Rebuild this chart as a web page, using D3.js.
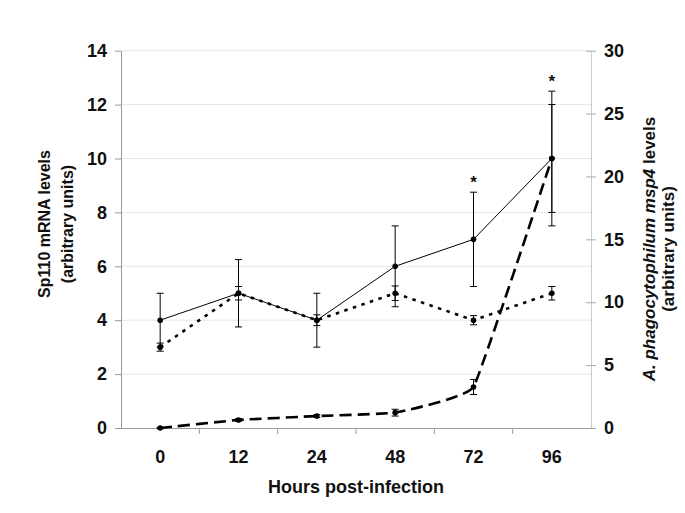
<!DOCTYPE html>
<html><head><meta charset="utf-8">
<script src="https://cdn.jsdelivr.net/npm/d3@7"></script>
<style>
html,body{margin:0;padding:0;background:#fff;}
svg{display:block;font-family:"Liberation Sans",Arial,sans-serif;}
</style></head>
<body>
<svg id="chart" width="685" height="513"></svg>
<script>
const categories = ["0","12","24","48","72","96"];
const sp110 = [4, 5, 4, 6, 7, 10];
const sp110Err = [1, 1.25, 1, 1.5, 1.75, 2.5];
const sp110B = [3, 5, 4, 5, 4, 5];
const sp110BErr = [0.15, 0.25, 0.2, 0.27, 0.17, 0.25];
const msp4 = [0, 0.64, 0.95, 1.22, 3.26, 21.43];
const msp4Err = [0.05, 0.1, 0.1, 0.27, 0.6, 4.29];
const leftTicks = [0, 2, 4, 6, 8, 10, 12, 14];
const rightTicks = [0, 5, 10, 15, 20, 25, 30];
const starred = ["72", "96"];

const svg = d3.select("#chart");
const tf = "Liberation Sans, Arial, sans-serif";
const FS = 18;
const L = 121, R = 591, T = 50.7, B = 428;
const x = d3.scaleBand().domain(categories).range([L, R]);
const yL = d3.scaleLinear().domain([0, 14]).range([B, T]);
const yR = d3.scaleLinear().domain([0, 30]).range([B, T]);
const cx = c => x(c) + x.bandwidth() / 2;

// gridlines
svg.append("g").selectAll("line").data(leftTicks.filter(d => d > 0)).join("line")
  .attr("x1", L).attr("x2", R).attr("y1", d => yL(d)).attr("y2", d => yL(d))
  .attr("stroke", "#e6e6e6").attr("stroke-width", 1);

function styleText(sel, fs) {
  return sel.attr("font-size", fs || FS).attr("font-weight", "bold")
    .attr("font-family", tf).attr("fill", "#111");
}

// left axis
const gl = svg.append("g").attr("transform", `translate(${L},0)`)
  .call(d3.axisLeft(yL).tickValues(leftTicks).tickSize(6).tickSizeOuter(0).tickPadding(8));
gl.select(".domain").attr("stroke", "#999");
gl.selectAll(".tick line").attr("stroke", "#999");
styleText(gl.selectAll(".tick text"));

// right axis
const gr = svg.append("g").attr("transform", `translate(${R},0)`)
  .call(d3.axisRight(yR).tickValues(rightTicks).tickSize(5).tickSizeOuter(0).tickPadding(8));
gr.select(".domain").attr("stroke", "#ccc");
gr.selectAll(".tick line").attr("stroke", "#aaa").attr("x1", -5);
styleText(gr.selectAll(".tick text"));

// bottom axis with ticks at category boundaries
const gb = svg.append("g").attr("transform", `translate(0,${B})`)
  .call(d3.axisBottom(x).tickSize(0).tickPadding(22));
gb.select(".domain").attr("stroke", "#999").attr("d", `M${L},0.5H${R}`);
styleText(gb.selectAll(".tick text"));
gb.append("g").selectAll("line").data(categories.slice(1)).join("line")
  .attr("x1", d => x(d)).attr("x2", d => x(d)).attr("y1", 0).attr("y2", 6)
  .attr("stroke", "#999");

// axis titles
styleText(svg.append("text").attr("transform", "translate(356,493)").attr("text-anchor", "middle")
  .text("Hours post-infection"));
const lt = svg.append("g").attr("transform", "translate(0,224)");
styleText(lt.append("text").attr("transform", "translate(50,0) rotate(-90)").attr("text-anchor", "middle")
  .text("Sp110 mRNA levels"), 16);
styleText(lt.append("text").attr("transform", "translate(73,0) rotate(-90)").attr("text-anchor", "middle")
  .text("(arbitrary units)"), 16);
const rt = svg.append("g").attr("transform", "translate(0,249)");
const r1 = rt.append("text").attr("transform", "translate(655,0) rotate(-90)").attr("text-anchor", "middle");
styleText(r1, 17);
r1.append("tspan").attr("font-style", "italic").text("A. phagocytophilum");
r1.append("tspan").text(" ");
r1.append("tspan").attr("font-style", "italic").text("msp4");
r1.append("tspan").text(" levels");
styleText(rt.append("text").attr("transform", "translate(674,0) rotate(-90)").attr("text-anchor", "middle")
  .text("(arbitrary units)"), 17);

// series
const series = [
  {vals: sp110, err: sp110Err, y: yL, dash: null, w: 1, curve: d3.curveLinear},
  {vals: sp110B, err: sp110BErr, y: yL, dash: "3.5,5.5", w: 2.6, curve: d3.curveLinear},
  {vals: msp4, err: msp4Err, y: yR, dash: "12,6", w: 2.6, curve: d3.curveCardinal.tension(0.75)}
];
series.forEach(s => {
  const pts = categories.map((c, i) => ({c, v: s.vals[i], e: s.err[i]}));
  const line = d3.line().x(d => cx(d.c)).y(d => s.y(d.v)).curve(s.curve);
  svg.append("path").datum(pts).attr("d", line).attr("fill", "none")
    .attr("stroke", "#000").attr("stroke-width", s.w)
    .attr("stroke-dasharray", s.dash);
  const eg = svg.append("g");
  eg.selectAll(".v").data(pts).join("line")
    .attr("x1", d => cx(d.c)).attr("x2", d => cx(d.c))
    .attr("y1", d => s.y(d.v - d.e)).attr("y2", d => s.y(d.v + d.e))
    .attr("stroke", "#000").attr("stroke-width", 1);
  [-1, 1].forEach(sg => {
    eg.append("g").selectAll("line").data(pts).join("line")
      .attr("x1", d => cx(d.c) - 3.5).attr("x2", d => cx(d.c) + 3.5)
      .attr("y1", d => s.y(d.v + sg * d.e)).attr("y2", d => s.y(d.v + sg * d.e))
      .attr("stroke", "#000").attr("stroke-width", 1);
  });
  svg.append("g").selectAll("circle").data(pts).join("circle")
    .attr("cx", d => cx(d.c)).attr("cy", d => s.y(d.v)).attr("r", 2.8).attr("fill", "#000");
});

// significance asterisks
svg.append("g").selectAll("text").data(starred).join("text")
  .attr("x", d => cx(d))
  .attr("y", d => { const i = categories.indexOf(d); return yL(sp110[i] + sp110Err[i]) - 4; })
  .attr("text-anchor", "middle").attr("font-size", 17).attr("font-weight", "bold")
  .attr("font-family", tf).attr("fill", "#111").text("*");
</script>
</body></html>
